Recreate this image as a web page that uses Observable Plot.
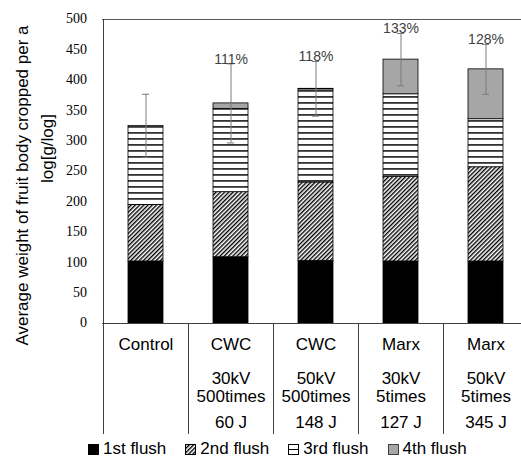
<!DOCTYPE html>
<html><head><meta charset="utf-8">
<script src="https://cdn.jsdelivr.net/npm/d3@7"></script>
<script src="https://cdn.jsdelivr.net/npm/@observablehq/plot@0.6"></script>
<style>
body{margin:0;background:#fff;}
#chart{width:521px;height:464px;overflow:hidden;position:relative;background:#fff;}
.legend{display:flex;align-items:center;height:24px;padding-left:88px;font:17px "Liberation Sans",Arial,sans-serif;color:#000;white-space:nowrap;}
.legend .item{display:flex;align-items:center;margin-right:19px;}
.legend svg{margin-right:4px;display:block;}
</style></head><body><div id="chart"></div>
<script>
// ---- data ----
const categories = ["Control", "CWC 30kV", "CWC 50kV", "Marx 30kV", "Marx 50kV"];
const method = ["Control", "CWC", "CWC", "Marx", "Marx"];
const voltage = ["", "30kV", "50kV", "30kV", "50kV"];
const shots = ["", "500times", "500times", "5times", "5times"];
const energy = ["", "60 J", "148 J", "127 J", "345 J"];
const flushes = ["1st flush", "2nd flush", "3rd flush", "4th flush"];
const flush1 = [102, 109, 103, 102, 102];
const flush2 = [93, 107, 129, 139, 155];
const flush3 = [130, 137, 153, 136, 79];
const flush4 = [0, 9, 1, 57, 82];
const errors = [52, 65, 45, 43, 41];
const percentLabels = ["", "111%", "118%", "133%", "128%"];
const yTicks = [0, 50, 100, 150, 200, 250, 300, 350, 400, 450, 500];
const yTitle = ["Average weight of fruit body cropped per a", "log[g/log]"];

// ---- derived tables ----
const seriesValues = [flush1, flush2, flush3, flush4];
const rows = categories.flatMap((c, i) => flushes.map((f, j) => ({category: c, flush: f, value: seriesValues[j][i]})));
const summary = categories.map((c, i) => ({
  category: c,
  total: d3.sum(seriesValues, s => s[i]),
  err: errors[i],
  label: percentLabels[i]
}));
const fills = ["black", "url(#hatch2)", "url(#stripes3)", "#a6a6a6"];
const serif = '"Liberation Serif", "DejaVu Serif", "Times New Roman", serif';

function defsMark() {
  return () => {
    const g = d3.create("svg:g");
    const defs = g.append("defs");
    const h = defs.append("pattern").attr("id", "hatch2").attr("patternUnits", "userSpaceOnUse")
      .attr("width", 3).attr("height", 3).attr("patternTransform", "rotate(45)");
    h.append("rect").attr("width", 3).attr("height", 3).attr("fill", "white");
    h.append("rect").attr("width", 1.4).attr("height", 3).attr("fill", "black");
    const s = defs.append("pattern").attr("id", "stripes3").attr("patternUnits", "userSpaceOnUse")
      .attr("width", 6).attr("height", 6);
    s.append("rect").attr("width", 6).attr("height", 6).attr("fill", "white");
    s.append("rect").attr("y", 0).attr("width", 6).attr("height", 1.8).attr("fill", "#333");
    return g.node();
  };
}

// y tick labels drawn through the y scale, styled in a serif face
function yTickLabels() {
  return (index, scales, values, dims) => {
    const g = d3.create("svg:g").attr("text-anchor", "end").attr("fill", "black");
    yTicks.forEach(t => {
      g.append("text")
        .attr("x", dims.marginLeft - 15)
        .attr("y", scales.y(t))
        .attr("dy", "0.32em")
        .style("font-family", serif)
        .style("font-size", "14px")
        .text(String(t));
    });
    return g.node();
  };
}

function tableLines() {
  return (index, scales, values, dims) => {
    const x = scales.x, y = scales.y;
    const bw = typeof x.bandwidth === "function" ? x.bandwidth() : x.bandwidth;
    const step = x(categories[1]) - x(categories[0]);
    const gap = (step - bw) / 2;
    const bottom = dims.height - 3;
    const g = d3.create("svg:g").attr("stroke", "#404040").attr("stroke-width", 1);
    categories.forEach((c, i) => {
      const bx = Math.round(x(c) - gap) + 0.5;
      g.append("line").attr("x1", bx).attr("x2", bx)
        .attr("y1", i === 0 ? y(500) : y(0)).attr("y2", bottom);
    });
    return g.node();
  };
}

const font = "Liberation Sans, Arial, sans-serif";
const plot = Plot.plot({
  width: 521, height: 437,
  marginLeft: 102, marginRight: 0, marginTop: 19, marginBottom: 114,
  style: {fontFamily: font, background: "white", overflow: "visible"},
  x: {domain: categories, range: [102, 528], paddingInner: 0.59, paddingOuter: 0.295, axis: null},
  y: {domain: [0, 500], axis: null},
  color: {domain: flushes, range: fills},
  marks: [
    defsMark(),
    yTickLabels(),
    Plot.text([yTitle[0]], {frameAnchor: "left", textAnchor: "middle", rotate: -90, dx: -80, dy: 14, fontSize: 17, fill: "black"}),
    Plot.text([yTitle[1]], {frameAnchor: "left", textAnchor: "middle", rotate: -90, dx: -55, dy: -23, fontSize: 17, fill: "black"}),
    Plot.barY(rows, {x: "category", y: "value", fill: "flush", stroke: "black", strokeWidth: 0.8}),
    Plot.ruleX(summary, {x: "category", y1: d => d.total - d.err, y2: d => d.total + d.err, stroke: "#7a7a7a", strokeWidth: 1}),
    Plot.tickY(summary, {x: "category", y: d => d.total - d.err, insetLeft: 14, insetRight: 14, stroke: "#7a7a7a"}),
    Plot.tickY(summary, {x: "category", y: d => d.total + d.err, insetLeft: 14, insetRight: 14, stroke: "#7a7a7a"}),
    Plot.text(summary.filter(d => d.label), {x: "category", y: d => d.total + d.err, text: "label", lineAnchor: "bottom", fontSize: 14, fill: "#404040"}),
    Plot.ruleY([500], {stroke: "#595959"}),
    Plot.ruleY([0], {stroke: "#404040"}),
    tableLines(),
    Plot.text(categories, {x: d => d, text: (d, i) => method[i], frameAnchor: "bottom", lineAnchor: "top", dy: 14, fontSize: 17, fill: "black"}),
    Plot.text(categories, {x: d => d, text: (d, i) => voltage[i] + "\n" + shots[i], frameAnchor: "bottom", lineAnchor: "top", lineHeight: 1.1, dy: 47, fontSize: 17, fill: "black"}),
    Plot.text(categories, {x: d => d, text: (d, i) => energy[i], frameAnchor: "bottom", lineAnchor: "top", dy: 92, fontSize: 17, fill: "black"})
  ]
});
const chart = document.getElementById("chart");
chart.appendChild(plot);

// ---- legend ----
const legend = document.createElement("div");
legend.className = "legend";
const swatch = [
  '<rect x="0.5" y="0.5" width="10" height="10" fill="black" stroke="black"/>',
  '<rect x="0.5" y="0.5" width="10" height="10" fill="url(#hatch2)" stroke="black"/>',
  '<rect x="0.5" y="0.5" width="10" height="10" fill="white" stroke="black"/><line x1="0.5" x2="10.5" y1="5.5" y2="5.5" stroke="black"/>',
  '<rect x="0.5" y="0.5" width="10" height="10" fill="#a6a6a6" stroke="#404040"/>'
];
flushes.forEach((f, i) => {
  const item = document.createElement("div");
  item.className = "item";
  item.innerHTML = '<svg width="11" height="11">' + swatch[i] + '</svg><span>' + f + '</span>';
  legend.appendChild(item);
});
chart.appendChild(legend);
</script>
</body></html>
